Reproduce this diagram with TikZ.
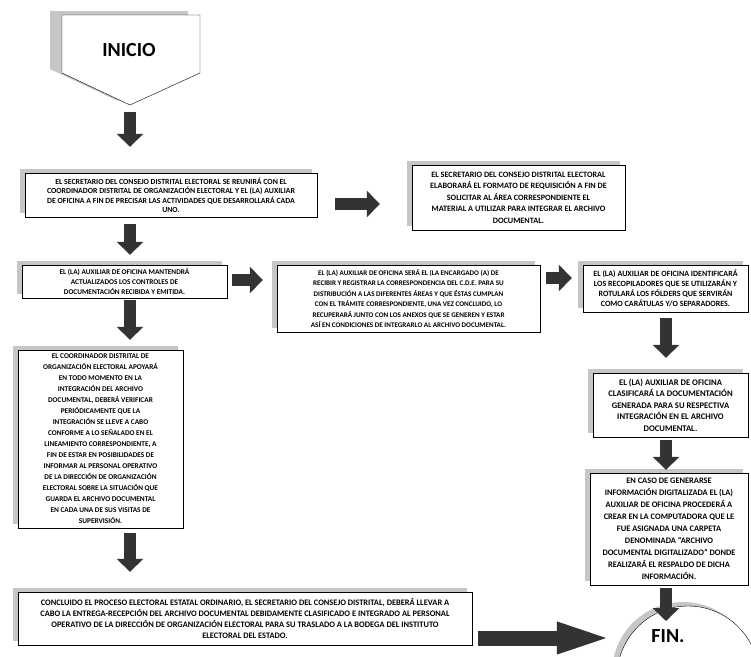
\documentclass[tikz,border=0pt]{standalone}
\usepackage{fontspec}
\setmainfont{Carlito}
\usetikzlibrary{arrows.meta,shadows,calc}

\begin{document}
\begin{tikzpicture}[x=1pt,y=-1pt,
  shade/.style={general shadow={fill=gray!45,shadow xshift=-5pt,shadow yshift=4pt}},
  box/.style 2 args={rectangle,draw,fill=white,align=center,inner sep=2pt,shade,font=\fontsize{#1}{#2}\selectfont\bfseries},
  fat/.style={line width=12pt,draw=black!80,-{Triangle[width=26pt,length=13pt]}}
]
\useasboundingbox (0,0) rectangle (751,656);
\clip (0,0) rectangle (751,656);

% start
\path[draw,fill=white,general shadow={fill=gray!45,shadow xshift=-12pt,shadow yshift=4pt}]
  (62,15) -- (200,15) -- (200,73) -- (130,105) -- (62,73) -- cycle;
\node[font=\fontsize{20}{24}\selectfont\bfseries] (inicio) at (129,50) {INICIO};
\coordinate (inicioTip) at (130,105);

% left column
\node[box={7.8}{9.5},minimum width=292pt,minimum height=44pt] (reunion) at (171,195)
  {EL SECRETARIO DEL CONSEJO DISTRITAL ELECTORAL SE REUNIRÁ CON EL\\COORDINADOR DISTRITAL DE ORGANIZACIÓN ELECTORAL Y EL (LA) AUXILIAR\\DE OFICINA A FIN DE PRECISAR LAS ACTIVIDADES QUE DESARROLLARÁ CADA\\UNO.};
\node[box={8.2}{11.5},minimum width=213pt,minimum height=65pt] (requisicion) at (518.5,197.5)
  {EL SECRETARIO DEL CONSEJO DISTRITAL ELECTORAL\\ELABORARÁ EL FORMATO DE REQUISICIÓN A FIN DE\\SOLICITAR AL ÁREA CORRESPONDIENTE EL\\MATERIAL A UTILIZAR PARA INTEGRAR EL ARCHIVO\\DOCUMENTAL.};
\node[box={7.3}{10},minimum width=205pt,minimum height=33pt] (controles) at (124.5,281.5)
  {EL (LA) AUXILIAR DE OFICINA MANTENDRÁ\\ACTUALIZADOS LOS CONTROLES DE\\DOCUMENTACIÓN RECIBIDA Y EMITIDA.};
\node[box={7.1}{10.5},minimum width=263pt,minimum height=67pt] (correspondencia) at (408.5,298.5)
  {EL (LA) AUXILIAR DE OFICINA SERÁ EL (LA ENCARGADO (A) DE\\RECIBIR Y REGISTRAR LA CORRESPONDENCIA DEL C.D.E. PARA SU\\DISTRIBUCIÓN A LAS DIFERENTES ÁREAS Y QUE ÉSTAS CUMPLAN\\CON EL TRÁMITE CORRESPONDIENTE, UNA VEZ CONCLUIDO, LO\\RECUPERARÁ JUNTO CON LOS ANEXOS QUE SE GENEREN Y ESTAR\\ASÍ EN CONDICIONES DE INTEGRARLO AL ARCHIVO DOCUMENTAL.};
\node[box={8}{10},minimum width=165pt,minimum height=47pt] (recopiladores) at (665.5,288.5)
  {EL (LA) AUXILIAR DE OFICINA IDENTIFICARÁ\\LOS RECOPILADORES QUE SE UTILIZARÁN Y\\ROTULARÁ LOS FÓLDERS QUE SERVIRÁN\\COMO CARÁTULAS Y/O SEPARADORES.};
\node[box={7.3}{11},minimum width=165pt,minimum height=178pt] (coordinador) at (100.5,439)
  {EL COORDINADOR DISTRITAL DE\\ORGANIZACIÓN ELECTORAL APOYARÁ\\EN TODO MOMENTO EN LA\\INTEGRACIÓN DEL ARCHIVO\\DOCUMENTAL, DEBERÁ VERIFICAR\\PERIÓDICAMENTE QUE LA\\INTEGRACIÓN SE LLEVE A CABO\\CONFORME A LO SEÑALADO EN EL\\LINEAMIENTO CORRESPONDIENTE, A\\FIN DE ESTAR EN POSIBILIDADES DE\\INFORMAR AL PERSONAL OPERATIVO\\DE LA DIRECCIÓN DE ORGANIZACIÓN\\ELECTORAL SOBRE LA SITUACIÓN QUE\\GUARDA EL ARCHIVO DOCUMENTAL\\EN CADA UNA DE SUS VISITAS DE\\SUPERVISIÓN.};
\node[box={8.4}{11},minimum width=454pt,minimum height=53pt] (entrega) at (245,618.5)
  {CONCLUIDO EL PROCESO ELECTORAL ESTATAL ORDINARIO, EL SECRETARIO DEL CONSEJO DISTRITAL, DEBERÁ LLEVAR A\\CABO LA ENTREGA-RECEPCIÓN DEL ARCHIVO DOCUMENTAL DEBIDAMENTE CLASIFICADO E INTEGRADO AL PERSONAL\\OPERATIVO DE LA DIRECCIÓN DE ORGANIZACIÓN ELECTORAL PARA SU TRASLADO A LA BODEGA DEL INSTITUTO\\ELECTORAL DEL ESTADO.};

% right column
\node[box={8.6}{11.5},minimum width=155pt,minimum height=64pt] (clasifica) at (670.5,405)
  {EL (LA) AUXILIAR DE OFICINA\\CLASIFICARÁ LA DOCUMENTACIÓN\\GENERADA PARA SU RESPECTIVA\\INTEGRACIÓN EN EL ARCHIVO\\DOCUMENTAL.};
\node[box={8.4}{12},minimum width=158pt,minimum height=112pt] (digitaliza) at (669,529)
  {EN CASO DE GENERARSE\\INFORMACIÓN DIGITALIZADA EL (LA)\\AUXILIAR DE OFICINA PROCEDERÁ A\\CREAR EN LA COMPUTADORA QUE LE\\FUE ASIGNADA UNA CARPETA\\DENOMINADA “ARCHIVO\\DOCUMENTAL DIGITALIZADO” DONDE\\REALIZARÁ EL RESPALDO DE DICHA\\INFORMACIÓN.};

% end
\node[circle,draw,fill=white,minimum size=142pt,shade] (fin) at (688,677) {};
\node[font=\fontsize{20}{24}\selectfont\bfseries] (finText) at (668,636) {FIN.};
\coordinate (colL) at (130,0);
\coordinate (colR) at (666,0);
\coordinate (finTop) at (666,621);

% arrows
\draw[fat,shorten <=7pt,shorten >=26pt] (inicioTip) -- (reunion.north -| inicioTip);
\draw[fat,shorten <=7pt,shorten >=10pt] (reunion.south -| colL) -- (controles.north -| colL);
\draw[fat,shorten <=2pt,shorten >=10pt] (controles.south -| colL) -- (coordinador.north -| colL);
\draw[fat,shorten <=5pt,shorten >=20pt] (coordinador.south -| colL) -- (entrega.north -| colL);
\draw[fat,shorten <=6pt,shorten >=15pt] (recopiladores.south -| colR) -- (clasifica.north -| colR);
\draw[fat,shorten <=3pt,shorten >=3pt] (clasifica.south -| colR) -- (digitaliza.north -| colR);
\draw[fat,shorten <=3pt] (digitaliza.south -| colR) -- (finTop);
\draw[fat,shorten <=18pt,shorten >=32pt] (reunion.east |- 0,204) -- (requisicion.west |- 0,204);
\draw[fat,shorten <=5pt,shorten >=14pt] (controles.east |- 0,280) -- (correspondencia.west |- 0,280);
\draw[fat,shorten <=6pt,shorten >=11pt] (correspondencia.east |- 0,278) -- (recopiladores.west |- 0,278);
\draw[fat,line width=15pt,-{Triangle[width=27pt,length=60pt]},shorten <=6pt] (entrega.east |- 0,638) -- (fin.west |- 0,638);
\end{tikzpicture}
\end{document}
